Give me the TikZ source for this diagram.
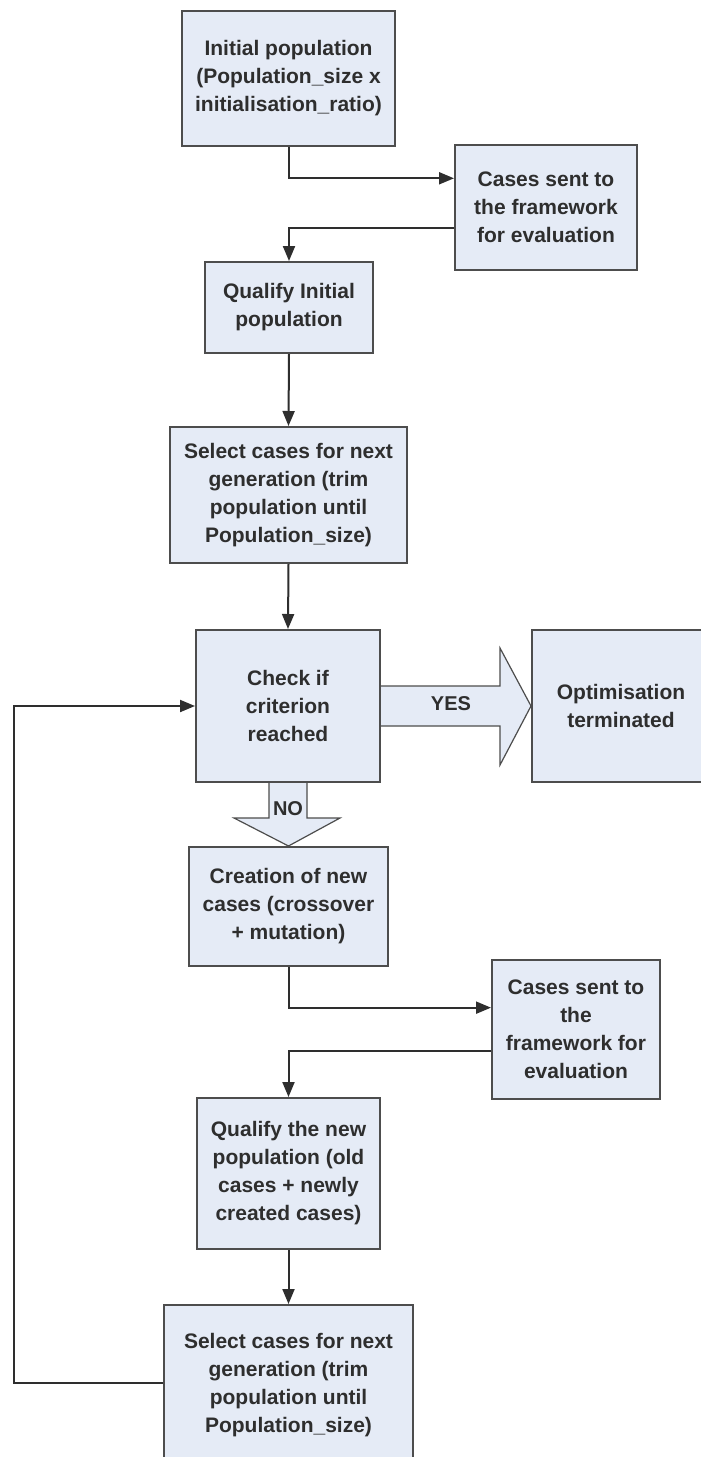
\documentclass[tikz,border=0pt]{standalone}
\usepackage{fontspec}
\setmainfont{Liberation Sans}
\usetikzlibrary{arrows.meta,calc}
\pgfdeclarelayer{background}
\pgfsetlayers{background,main}
\definecolor{boxfill}{HTML}{E5EBF6}
\definecolor{boxline}{HTML}{4D4D4D}
\definecolor{ink}{HTML}{2E2E2E}
\tikzset{
  stepbox/.style={draw=boxline, fill=boxfill, line width=2pt, rectangle, align=center,
    font=\bfseries\fontsize{21}{28}\selectfont, text=ink, inner sep=0pt},
  flow/.style={draw=ink, line width=2pt, -{Triangle[length=15pt,width=12pt]}},
  blockarrow/.style={draw=boxline, fill=boxfill, line width=1.2pt, line join=miter},
  tag/.style={font=\bfseries\fontsize{20}{24}\selectfont, text=ink, inner sep=0pt},
}
\begin{document}
\begin{tikzpicture}[x=1pt, y=-1pt]
\useasboundingbox (0,0) rectangle (701,1457);
\begin{pgfonlayer}{background}
\fill[white] (0,0) rectangle (701,1457);
\end{pgfonlayer}
\clip (0,0) rectangle (701,1457);

% process boxes
\node[stepbox, minimum width=213pt, minimum height=135pt] (init) at (288.5,78.5)
  {Initial population\\(Population\_size x\\initialisation\_ratio)};
\node[stepbox, minimum width=182pt, minimum height=125pt] (evalA) at (546,207.5)
  {Cases sent to\\the framework\\for evaluation};
\node[stepbox, minimum width=168pt, minimum height=91pt] (qualA) at (289,307.5)
  {Qualify Initial\\population};
\node[stepbox, minimum width=237pt, minimum height=136pt] (selA) at (288.5,495)
  {Select cases for next\\generation (trim\\population until\\Population\_size)};
\node[stepbox, minimum width=184pt, minimum height=152pt] (check) at (288,706)
  {Check if\\criterion\\reached};
% the terminal box runs past the right border of the sheet
\node[stepbox, overlay, minimum width=200pt, minimum height=152pt] (opt) at (632,706)
  {\parbox{178pt}{\centering Optimisation\\terminated}\hspace{22pt}};
\node[stepbox, minimum width=199pt, minimum height=119pt] (create) at (288.5,906.5)
  {Creation of new\\cases (crossover\\+ mutation)};
\node[stepbox, minimum width=168pt, minimum height=139pt] (evalB) at (576,1029.5)
  {Cases sent to\\the\\framework for\\evaluation};
\node[stepbox, minimum width=183pt, minimum height=151pt] (qualB) at (288.5,1173.5)
  {Qualify the new\\population (old\\cases + newly\\created cases)};
% the last box runs past the bottom border
\node[stepbox, overlay, minimum width=249pt, minimum height=160pt] (selB) at (288.5,1385)
  {Select cases for next\\generation (trim\\population until\\Population\_size)};

% connectors
\coordinate (evalAin)  at ($(evalA.north west)!0.27!(evalA.south west)$);
\coordinate (evalAout) at ($(evalA.north west)!0.66!(evalA.south west)$);
\draw[flow] (init.south) |- (evalAin);
\draw[flow] (evalAout) -| (qualA.north);
\draw[flow] (qualA.south) -- (selA.north);
\draw[flow] (selA.south) -- (check.north);

\coordinate (evalBin)  at ($(evalB.north west)!0.345!(evalB.south west)$);
\coordinate (evalBout) at ($(evalB.north west)!0.65!(evalB.south west)$);
\draw[flow] (create.south) |- (evalBin);
\draw[flow] (evalBout) -| (qualB.north);
\draw[flow] (qualB.south) -- (selB.north);

\coordinate (loopx) at (14,0);
\coordinate (selBside) at ($(selB.west)+(0,-2)$);
\draw[flow] (selBside) -- (selBside -| loopx) |- (check.west);

% decision block arrows, kept behind the boxes
\begin{pgfonlayer}{background}
\draw[blockarrow] ($(check.east)+(0,-20)$) -- ($(check.east)+(119,-20)$)
  -- ($(check.east)+(119,-58)$) -- (opt.west) -- ($(check.east)+(119,59)$)
  -- ($(check.east)+(119,20)$) -- ($(check.east)+(0,20)$);
\draw[blockarrow] ($(check.south)+(-19,0)$) -- ($(check.south)+(-19,35)$)
  -- ($(check.south)+(-54,35)$) -- (create.north) -- ($(check.south)+(52,35)$)
  -- ($(check.south)+(19,35)$) -- ($(check.south)+(19,0)$);
\end{pgfonlayer}
\node[tag] (yes) at (451,704) {YES};
\node[tag] (no) at (288,809) {NO};
\end{tikzpicture}
\end{document}
